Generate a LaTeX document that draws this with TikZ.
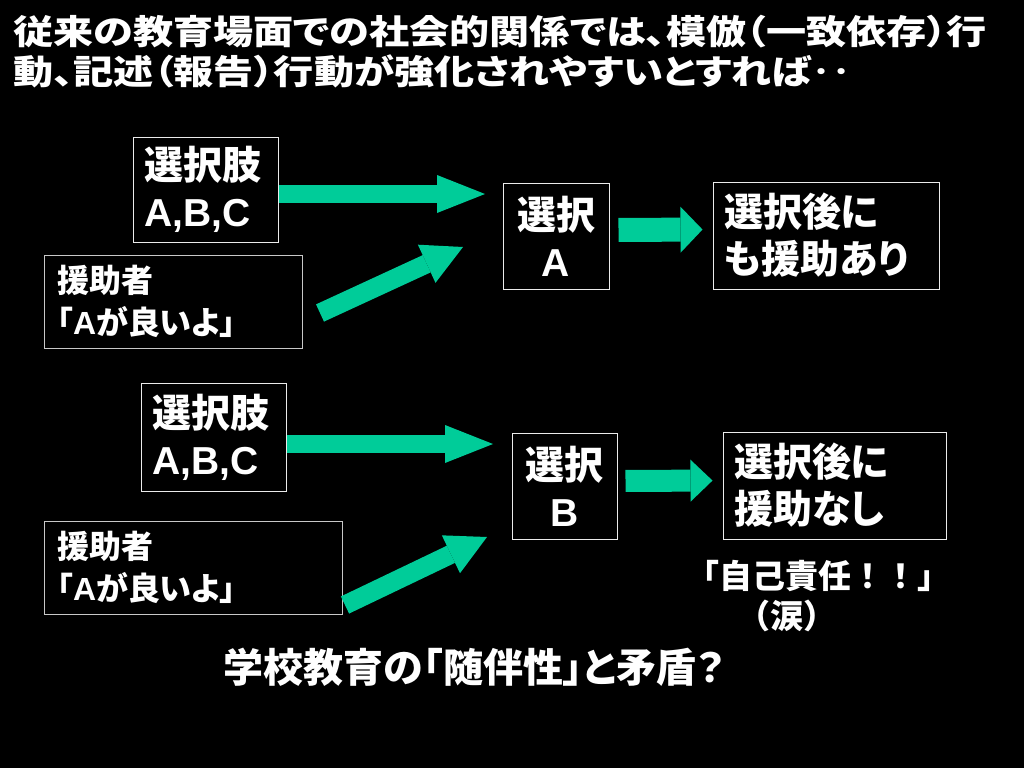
\documentclass[tikz,border=0pt]{standalone}
\usepackage{fontspec}
\usepackage{graphicx}
\setmainfont{Noto Sans CJK JP}[RawFeature={+palt}]
\newfontfamily\jpfw{Noto Sans CJK JP}
\newfontfamily\lat{Liberation Sans}
\usetikzlibrary{arrows.meta}
\definecolor{arrowgreen}{RGB}{0,204,153}
\definecolor{frameA}{RGB}{235,235,235}
\definecolor{frameB}{RGB}{200,200,200}
\tikzset{
  box/.style={draw=frameA, line width=1pt, text=white, font=\bfseries\fontsize{39}{47}\selectfont, inner xsep=11pt, inner ysep=0pt},
  helpbox/.style={draw=frameB, line width=1pt, text=white, font=\bfseries\fontsize{32}{42}\selectfont, inner xsep=13pt, inner ysep=0pt, align=left},
  plaintext/.style={text=white, inner sep=0pt},
  fatarrow/.style args={#1/#2/#3}{draw=arrowgreen, line width=#1, -{Triangle[length=#3, width=#2, line width=0pt]}},
}
\begin{document}
\begin{tikzpicture}[x=1pt,y=-1pt]
\fill[black] (0,0) rectangle (1024,768);
\useasboundingbox (0,0) rectangle (1024,768);

% title
\node[plaintext, anchor=west, align=left, font=\bfseries\fontsize{34}{40}\selectfont] (title) at (13,52)
  {\scalebox{1.18}[1]{従来の教育場面での社会的関係では、模倣（一致依存）行}\\
   \scalebox{1.18}[1]{動、記述（報告）行動が強化されやすいとすれば‥}};

% upper group
\node[box, text width=123pt, minimum height=105pt, align=left] (opt1) at (205.5,189.5) {選択肢\\{\lat A,B,C}};
\node[helpbox, text width=232pt, minimum height=93pt] (help1) at (173,301.5) {援助者\\「{\lat A}が良いよ」};
\node[box, text width=84pt, minimum height=106pt, align=center] (selA) at (556,236) {選択\\{\lat A}};
\node[box, text width=204pt, minimum height=107pt, align=left] (resA) at (826,235.5) {選択後に\\も援助あり};

\coordinate (a1t) at (485,194);
\draw[fatarrow=18pt/38pt/48pt] (opt1.east |- a1t) -- (a1t);
\coordinate (a2s) at (320,313);
\coordinate (a2t) at (463,247);
\draw[fatarrow=19pt/42pt/40pt] (a2s) -- (a2t);
\draw[fatarrow=24pt/46pt/22pt, shorten <=9pt, shorten >=10pt] ([yshift=6pt]selA.east) -- ([yshift=6pt]resA.west);

% lower group
\node[box, text width=123pt, minimum height=108pt, align=left] (opt2) at (213.5,437) {選択肢\\{\lat A,B,C}};
\node[helpbox, text width=272pt, minimum height=93pt] (help2) at (193,567.5) {援助者\\「{\lat A}が良いよ」};
\node[box, text width=83pt, minimum height=106pt, align=center] (selB) at (564.5,486) {選択\\{\lat B}};
\node[box, text width=201pt, minimum height=107pt, align=left] (resB) at (834.5,485.5) {選択後に\\援助なし};

\coordinate (b1t) at (493,444);
\draw[fatarrow=18pt/38pt/48pt] (opt2.east |- b1t) -- (b1t);
\coordinate (b2s) at (345,605);
\coordinate (b2t) at (487,537);
\draw[fatarrow=19pt/42pt/40pt] (b2s) -- (b2t);
\draw[fatarrow=22pt/42pt/22pt, shorten <=8pt, shorten >=10pt] ([yshift=5pt]selB.east) -- ([yshift=5pt]resB.west);

% notes
\node[plaintext, font=\jpfw\bfseries\fontsize{33}{40}\selectfont] (self) at (818,576) {「自己責任！！」};
\node[plaintext, font=\jpfw\bfseries\fontsize{33}{40}\selectfont] (tears) at (787,616) {（涙）};
\node[plaintext, font=\bfseries\fontsize{40}{48}\selectfont] (concl) at (474,667) {学校教育の「随伴性」と矛盾？};
\end{tikzpicture}
\end{document}
